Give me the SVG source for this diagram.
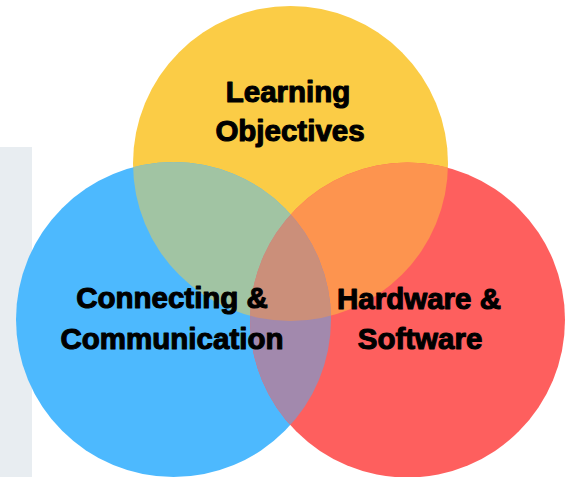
<svg xmlns="http://www.w3.org/2000/svg" width="573" height="477" viewBox="0 0 573 477">
<style>
.lbl{font-family:"Liberation Sans",Arial,sans-serif;font-weight:bold;font-size:29.5px;fill:#000;stroke:#000;stroke-width:1.1;stroke-linejoin:round;text-anchor:middle}
</style>
<defs>
<clipPath id="cY"><circle cx="290.5" cy="163.5" r="157.5"/></clipPath>
<clipPath id="cB"><circle cx="173.5" cy="319.5" r="157.5"/></clipPath>
<clipPath id="cR"><circle cx="407.5" cy="320" r="157.5"/></clipPath>
</defs>
<rect x="0" y="147" width="32" height="330" fill="#E8EDF1"/>
<g id="yellow"><circle cx="290.5" cy="163.5" r="157.5" fill="#FBCC46"/></g>
<g id="blue"><circle cx="173.5" cy="319.5" r="157.5" fill="#4DB9FE"/></g>
<g id="red"><circle cx="407.5" cy="320" r="157.5" fill="#FE5F5E"/></g>
<g id="overlaps">
<circle cx="173.5" cy="319.5" r="157.5" fill="#A1C4A3" clip-path="url(#cY)"/>
<circle cx="407.5" cy="320" r="157.5" fill="#FD944F" clip-path="url(#cY)"/>
<circle cx="407.5" cy="320" r="157.5" fill="#A289AD" clip-path="url(#cB)"/>
<g clip-path="url(#cY)"><circle cx="407.5" cy="320" r="157.5" fill="#CB8F7A" clip-path="url(#cB)"/></g>
</g>
<g id="labels">
<text class="lbl" x="288" y="102">Learning</text>
<text class="lbl" x="290" y="141">Objectives</text>
<text class="lbl" x="172" y="308">Connecting &amp;</text>
<text class="lbl" x="172" y="349">Communication</text>
<text class="lbl" x="419" y="309">Hardware &amp;</text>
<text class="lbl" x="420" y="349">Software</text>
</g>
</svg>
